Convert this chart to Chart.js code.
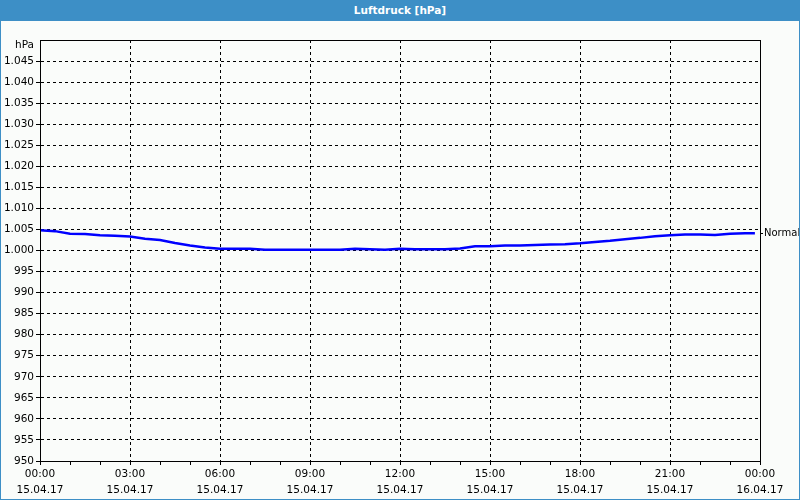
<!DOCTYPE html>
<html>
<head>
<meta charset="utf-8">
<script src="https://cdn.jsdelivr.net/npm/chart.js@4"></script>
<style>
  html, body { margin: 0; padding: 0; background: #fff; }
  #frame {
    width: 800px; height: 500px; box-sizing: border-box;
    border: 1px solid #3d8fc6; border-top: none;
    background: #fafcfa; overflow: hidden;
  }
  #titel {
    height: 21px; margin: 0 -1px; background: #3d8fc6;
    color: #fff; font: bold 10.5px "DejaVu Sans", sans-serif;
    text-align: center; line-height: 20px;
  }
  canvas { display: block; }
</style>
</head>
<body>
<div id="frame">
  <div id="titel">Luftdruck [hPa]</div>
  <canvas id="luftdruckChart" width="798" height="478"></canvas>
</div>
<script>
// Messzeitpunkte in Stunden ab 15.04.17 00:00
const zeiten = [0, 0.5, 1, 1.5, 2, 2.5, 3, 3.5, 4, 4.5, 5, 5.5, 6, 6.5, 7, 7.5, 8, 8.5,
  9, 9.5, 10, 10.5, 11, 11.5, 12, 12.5, 13, 13.5, 14, 14.5, 15, 15.5, 16, 16.5, 17, 17.5,
  18, 18.5, 19, 19.5, 20, 20.5, 21, 21.5, 22, 22.5, 23, 23.5, 23.83];
// Luftdruck in hPa
const druck = [1004.8, 1004.6, 1004.0, 1003.9, 1003.6, 1003.5, 1003.3, 1002.8, 1002.5, 1001.8,
  1001.2, 1000.7, 1000.4, 1000.4, 1000.4, 1000.2, 1000.2, 1000.2, 1000.2, 1000.2, 1000.2,
  1000.4, 1000.3, 1000.2, 1000.4, 1000.3, 1000.3, 1000.3, 1000.5, 1001.0, 1001.0, 1001.2,
  1001.2, 1001.3, 1001.4, 1001.5, 1001.7, 1002.0, 1002.3, 1002.7, 1003.0, 1003.4, 1003.6,
  1003.8, 1003.8, 1003.7, 1004.0, 1004.1, 1004.1];

// Beschriftung der x-Achse (alle 3 Stunden)
const tickZeiten = ['00:00', '03:00', '06:00', '09:00', '12:00', '15:00', '18:00', '21:00', '00:00'];
const tickDaten = ['15.04.17', '15.04.17', '15.04.17', '15.04.17', '15.04.17', '15.04.17', '15.04.17', '15.04.17', '16.04.17'];

const schrift = { family: '"DejaVu Sans", sans-serif', size: 10.5, lineHeight: '16px' };

// 1045 -> "1.045"
function formatHpa(v) {
    if (v >= 1000) {
        return '1.' + String(v - 1000).padStart(3, '0');
    }
    return String(v);
}

// Rahmen um die Zeichenfläche
const rahmen = {
    id: 'rahmen',
    afterDraw(chart) {
        const a = chart.chartArea;
        const ctx = chart.ctx;
        ctx.save();
        ctx.strokeStyle = '#000';
        ctx.lineWidth = 1;
        ctx.strokeRect(Math.round(a.left) + 0.5, Math.round(a.top) + 0.5,
            Math.round(a.right - a.left), Math.round(a.bottom - a.top));
        ctx.restore();
    }
};

const ctx = document.getElementById('luftdruckChart').getContext('2d');
new Chart(ctx, {
    type: 'line',
    data: {
        datasets: [{
            label: 'Normal',
            data: zeiten.map((t, i) => ({ x: t, y: druck[i] })),
            borderColor: '#0000ff',
            borderWidth: 2.5,
            pointRadius: 0,
            tension: 0,
            fill: false
        }]
    },
    options: {
        responsive: false,
        animation: false,
        devicePixelRatio: 1,
        layout: { padding: { top: 19 } },
        plugins: {
            legend: { display: false },
            tooltip: { enabled: false }
        },
        scales: {
            x: {
                type: 'linear',
                min: 0,
                max: 24,
                afterFit(scale) { scale.height = 38; },
                afterBuildTicks(scale) {
                    const t = [];
                    for (let h = 0; h <= 24; h++) t.push({ value: h });
                    scale.ticks = t;
                },
                ticks: {
                    autoSkip: false,
                    maxRotation: 0,
                    padding: 1,
                    color: '#000',
                    font: schrift,
                    callback: function(v) {
                        if (v % 3 !== 0) return '';
                        return [tickZeiten[v / 3], tickDaten[v / 3]];
                    }
                },
                grid: {
                    color: c => (c.tick && c.tick.value % 3 === 0 && c.tick.value > 0 && c.tick.value < 24) ? '#000' : 'rgba(0,0,0,0)',
                    tickColor: '#000',
                    tickLength: 4
                },
                border: { color: '#000', dash: [3, 3] }
            },
            y: {
                min: 950,
                max: 1050,
                afterFit(scale) { scale.width = 39; },
                ticks: {
                    stepSize: 5,
                    autoSkip: false,
                    padding: 2,
                    color: '#000',
                    // "hPa" sitzt etwas unterhalb der obersten Linie
                    font: c => (c.tick && c.tick.value === 1050)
                        ? { family: schrift.family, size: 10.5, lineHeight: '10px' }
                        : { family: schrift.family, size: 10.5, lineHeight: '14px' },
                    callback: v => v === 1050 ? ['', 'hPa'] : formatHpa(v)
                },
                grid: {
                    color: c => (c.tick && c.tick.value > 950 && c.tick.value < 1050) ? '#000' : 'rgba(0,0,0,0)',
                    tickColor: c => (c.tick && c.tick.value === 1050) ? 'rgba(0,0,0,0)' : '#000',
                    tickLength: 4
                },
                border: { color: '#000', dash: [3, 3] }
            },
            y2: {
                position: 'right',
                min: 950,
                max: 1050,
                afterFit(scale) { scale.width = 39; },
                afterBuildTicks(scale) {
                    scale.ticks = [{ value: druck[druck.length - 1] }];
                },
                ticks: {
                    padding: 1,
                    color: '#000',
                    font: { family: schrift.family, size: 10 },
                    callback: () => 'Normal'
                },
                grid: {
                    drawOnChartArea: false,
                    tickColor: '#000',
                    tickLength: 3
                },
                border: { color: '#000' }
            }
        }
    },
    plugins: [rahmen]
});
</script>
</body>
</html>
